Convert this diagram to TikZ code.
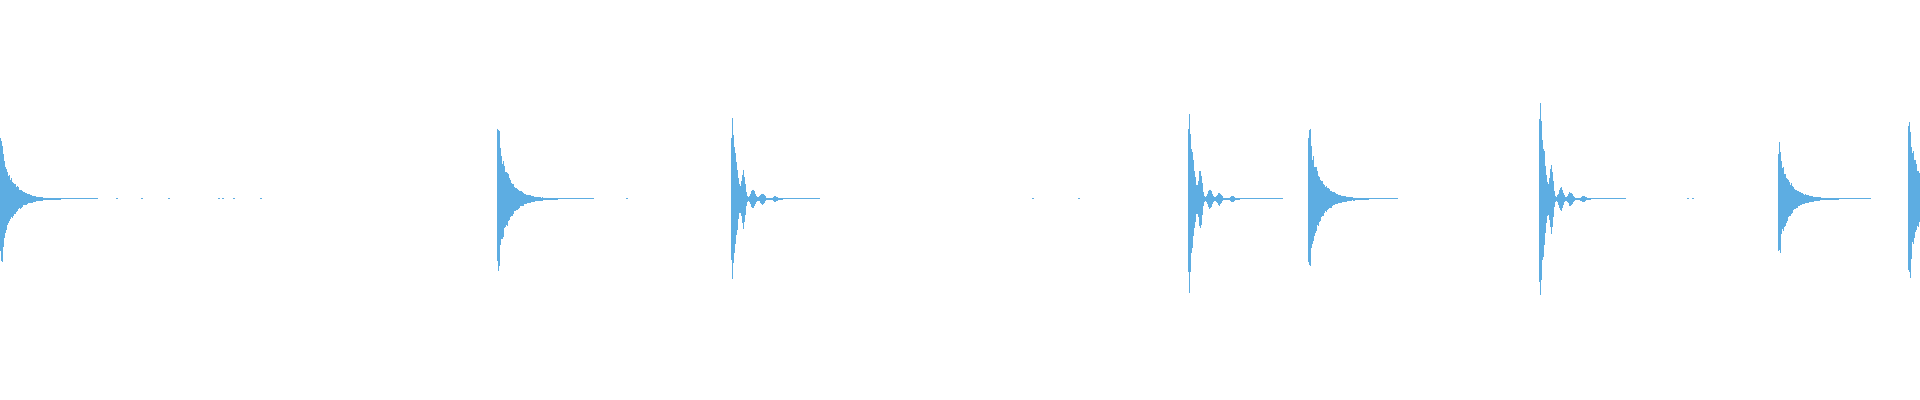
\documentclass[tikz,border=0pt]{standalone}
\begin{document}
\begin{tikzpicture}[x=0.5pt,y=-0.5pt,wave/.style={draw={rgb,255:red,93;green,173;blue,226},line width=0.5pt}]
\useasboundingbox (0,0) rectangle (1920,400);
\clip (0,0) rectangle (1920,400);
\pgfmathsetseed{7}
% decaying bursts
\foreach \bx/\A/\tl in {0/77/98, 497/89/594, 1308/89/1398, 1778/68/1871, 1908/100/1930}{
  \draw[wave] (\bx,199) -- (\tl,199);
  \foreach \t in {0,...,60}{
    \pgfmathsetmacro\e{\A*(0.25*exp(-min(((\t-1.5)/1.2)^2,30)) + 0.75*exp(-\t/11))}
    \pgfmathsetmacro\u{\e*(0.8+0.2*rnd)+0.5}
    \pgfmathsetmacro\d{\e*(0.8+0.2*rnd)+0.5}
    \draw[wave] (\bx+\t+0.5,199-\u) -- (\bx+\t+0.5,199+\d);
  }
}
% wobbly bursts
\foreach \bx/\A/\tl in {731/97/820, 1188/101/1283, 1539/116/1626}{
  \draw[wave] (\bx,199) -- (\tl,199);
  \foreach \t in {0,...,55}{
    \pgfmathsetmacro\e{\A*(0.35*exp(-min(((\t-1)/1)^2,30)) + 0.6*exp(-min((\t/7)^3,30)) + 0.3*exp(-min(((\t-12)/2.5)^2,30)) + 0.1*exp(-min(((\t-21.5)/3)^2,30)) + 0.06*exp(-min(((\t-31)/3)^2,30)) + 0.025*exp(-min(((\t-44)/3)^2,30)))}
    \pgfmathsetmacro\u{\e*(0.85+0.15*rnd)+0.5}
    \pgfmathsetmacro\d{\e*(0.85+0.15*rnd)+0.5}
    \draw[wave] (\bx+\t+0.5,199-\u) -- (\bx+\t+0.5,199+\d);
  }
}
% isolated dots
\foreach \p in {116,141,168,218,222,233,260,626,1032,1078,1687,1692}{
  \draw[wave] (\p,199) -- (\p+2,199);
}
\end{tikzpicture}
\end{document}
